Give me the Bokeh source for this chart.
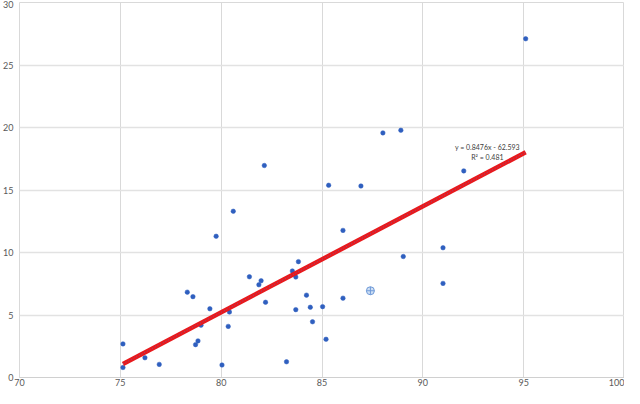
from bokeh.plotting import figure
from bokeh.models import Range1d, FixedTicker, Label
from bokeh.embed import file_html
from bokeh.resources import INLINE

# data
x_vals = [80.6, 79.75, 81.4, 78.32, 78.6, 79.44, 80.41, 79.0, 80.35, 78.85,
          78.73, 75.13, 76.22, 76.93, 80.04, 75.13, 83.83, 83.53, 83.7, 81.98,
          81.87, 89.03, 86.04, 82.2, 84.23, 83.7, 84.42, 85.03, 84.53, 85.2,
          83.24, 82.14, 88.02, 88.91, 85.33, 86.93, 86.04, 91.0, 91.0, 92.03,
          95.1]
y_vals = [13.3, 11.3, 8.06, 6.83, 6.47, 5.5, 5.24, 4.19, 4.09, 2.93,
          2.63, 2.69, 1.58, 1.05, 1.0, 0.8, 9.27, 8.52, 8.04, 7.74,
          7.42, 9.68, 6.35, 6.02, 6.59, 5.43, 5.62, 5.67, 4.46, 3.06,
          1.26, 16.96, 19.57, 19.78, 15.38, 15.32, 11.77, 10.38, 7.53, 16.53,
          27.1]
selected_x = [87.4]
selected_y = [6.94]

slope = 0.8476
intercept = -62.593
r_squared = 0.481

x_ticks = [70, 75, 80, 85, 90, 95, 100]
y_ticks = [0, 5, 10, 15, 20, 25, 30]

all_x = x_vals + selected_x
trend_x = [min(all_x), max(all_x)]
trend_y = [slope * v + intercept for v in trend_x]

p = figure(width=624, height=388, output_backend="svg", toolbar_location=None,
           x_range=Range1d(70, 100), y_range=Range1d(0, 30),
           min_border_top=2, min_border_right=0, min_border_left=8, min_border_bottom=0)
p.background_fill_color = "white"
p.border_fill_color = "white"
p.outline_line_color = "#d9d9d9"

for ax in (p.xaxis, p.yaxis):
    ax.major_tick_line_color = None
    ax.minor_tick_line_color = None
    ax.major_tick_out = 0
    ax.major_tick_in = 0
    ax.minor_tick_out = 0
    ax.major_label_text_font = "Lato"
    ax.major_label_text_font_size = "9px"
    ax.major_label_text_color = "#595959"
p.xaxis.ticker = FixedTicker(ticks=x_ticks)
p.yaxis.ticker = FixedTicker(ticks=y_ticks)
p.xaxis.axis_line_color = "#d0d0d0"
p.yaxis.axis_line_color = None
p.xaxis.major_label_standoff = 1
p.yaxis.major_label_standoff = 6

p.xgrid.ticker = FixedTicker(ticks=x_ticks)
p.ygrid.ticker = FixedTicker(ticks=y_ticks)
p.xgrid.grid_line_color = "#d9d9d9"
p.xgrid.grid_line_width = 1
p.ygrid.grid_line_color = "#e2e2e2"
p.ygrid.grid_line_width = 1.5

p.scatter(x_vals, y_vals, size=4.5, marker="circle", fill_color="#2f5fbf",
          line_color="#2f5fbf", line_width=0.5)
p.scatter(selected_x, selected_y, size=8, marker="circle_cross",
          fill_color="#cfe0f5", line_color="#6f9ad8", line_width=1)

p.line(trend_x, trend_y, line_color="#e8191c", line_width=4.5)
p.line(trend_x, trend_y, line_color="#5570c8", line_width=1, line_dash="1 2",
       line_alpha=0.6)

p.add_layout(Label(x=93.2, y=18.45, text=f"y = {slope}x - {abs(intercept)}",
                   text_font="Lato", text_font_size="7px", text_color="#404040",
                   text_align="center", text_baseline="middle"))
p.add_layout(Label(x=93.2, y=17.65, text=f"R² = {r_squared}",
                   text_font="Lato", text_font_size="7px", text_color="#404040",
                   text_align="center", text_baseline="middle"))

open("out.html", "w").write(file_html(p, INLINE))
